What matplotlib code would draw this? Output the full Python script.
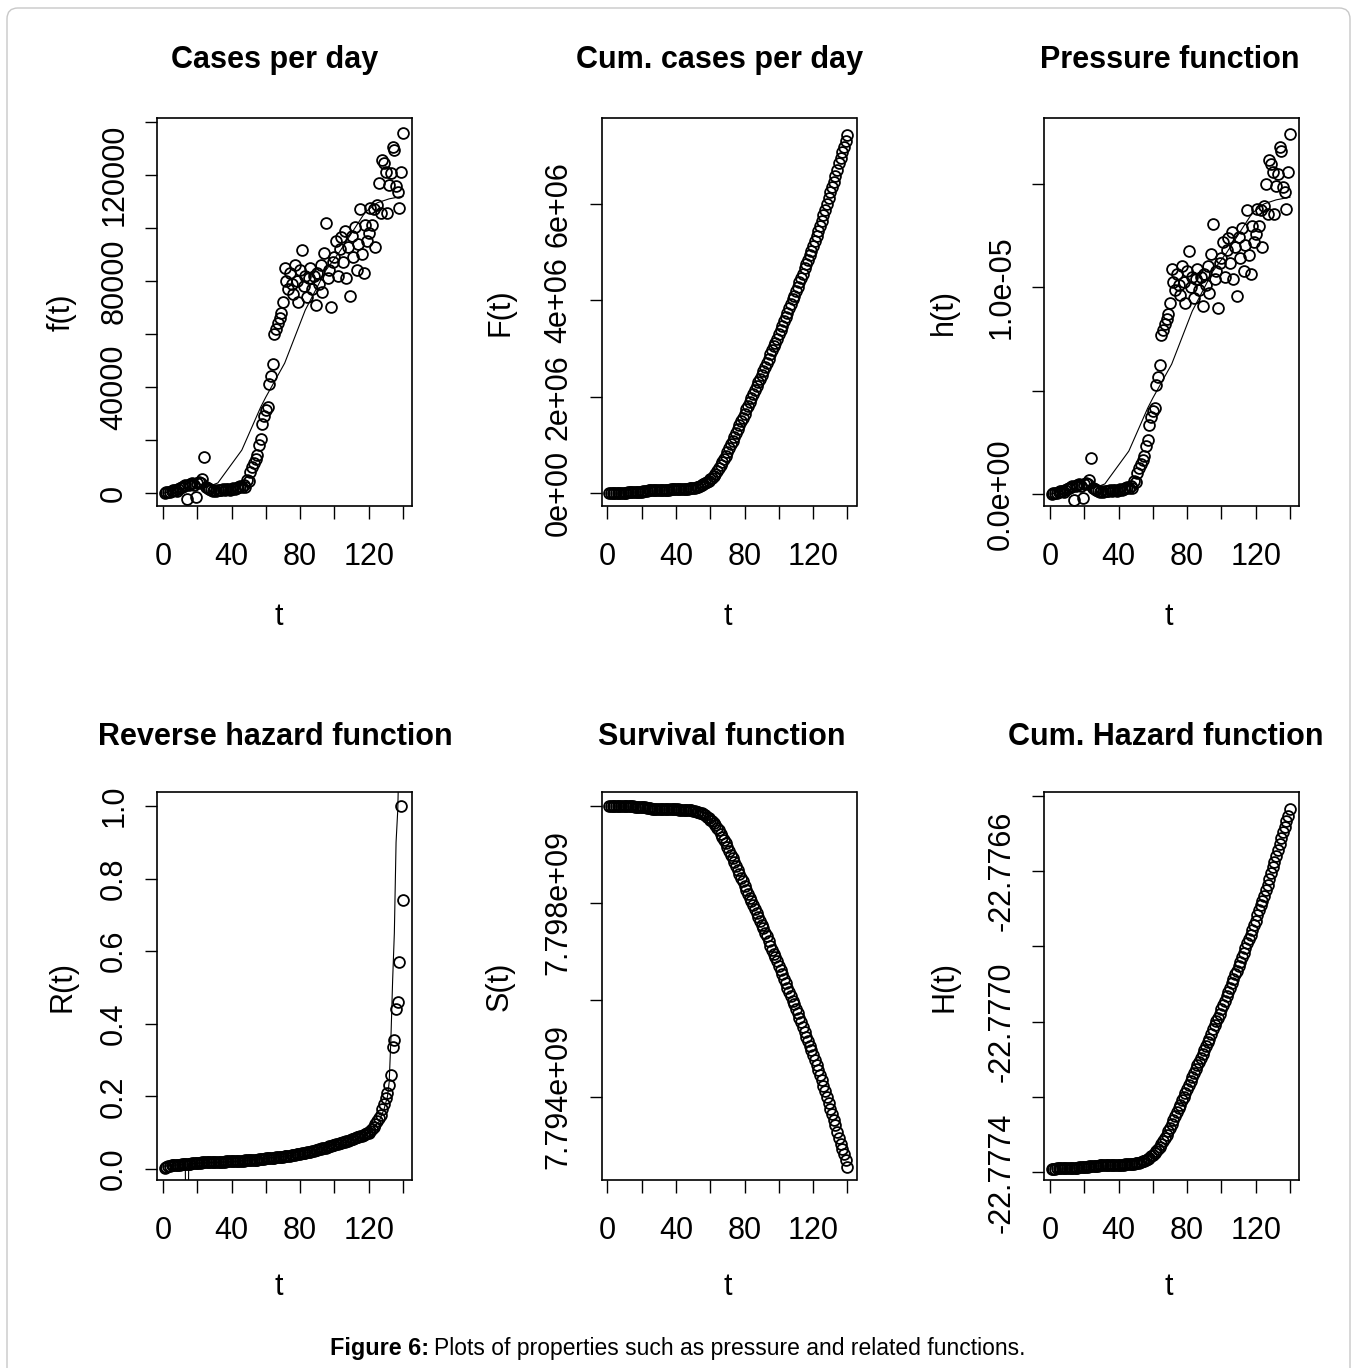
import numpy as np
import matplotlib
matplotlib.use("Agg")
import matplotlib.pyplot as plt
from matplotlib.patches import FancyBboxPatch
from matplotlib.ticker import FixedLocator, FixedFormatter

plt.rcParams['font.family'] = ['Liberation Sans', 'DejaVu Sans']

# ---------------- data ----------------
t = np.arange(1, 141)

f_cases = [
    0, 200, 500, 300, 800, 1000, 1200, 900, 1500, 1800,
    2100, 2500, 2900, -2200, 3200, 3500, 3800, 3000, -1600, 3600,
    4300, 3900, 5200, 13700, 2400, 1800, 1500, 1000, 800, 1200,
    900, 1100, 1300, 1000, 1500, 1200, 1400, 1700, 1300, 1600,
    1800, 1500, 2000, 2300, 2600, 2200, 3000, 2400, 4900, 4400,
    8000, 10000, 11500, 12800, 14500, 18000, 20500, 26000, 29000, 31500,
    32500, 41000, 44000, 48500, 60000, 62000, 64000, 66000, 68000,
    72000, 85000, 80000, 77000, 83000, 79000, 75000, 86000, 80000, 72000,
    84000, 91700, 78000, 82000, 74000, 81000, 85000, 77000, 82000, 71000,
    83000, 79000, 86000, 76000, 90500, 102000, 81000, 84000, 70000, 87000,
    89000, 95000, 82000, 92000, 96500, 87000, 99000, 81000, 93000, 74500,
    97000, 89000, 100500, 84000, 94000, 107000, 90000, 83000, 101000, 95000,
    98000, 107500, 101000, 107000, 93000, 108500, 117000, 105500, 125800, 124500,
    121300, 105700, 116300, 120700, 130700, 129400, 115800, 113700, 107400, 121300,
    135700,
]

fit_t = [1, 10, 20, 28, 32, 46, 57, 60, 71, 83, 95, 103, 110, 118, 125, 132, 140]
fit_f = [0, 1500, 2500, 2800, 3800, 16200, 32400, 36200, 49000, 69000, 84000,
         91000, 98000, 106000, 109500, 111000, 112000]

population = 7.8e9

R_vals = [
    0.004, 0.006, 0.008, 0.009, 0.010, 0.010, 0.011, 0.011, 0.012, 0.012,
    0.013, 0.013, 0.014, 0.014, 0.015, 0.015, 0.016, 0.016, 0.016, 0.017,
    0.017, 0.017, 0.018, 0.018, 0.018, 0.018, 0.019, 0.019, 0.019, 0.019,
    0.019, 0.020, 0.020, 0.020, 0.020, 0.020, 0.021, 0.021, 0.021, 0.021,
    0.022, 0.022, 0.022, 0.022, 0.023, 0.023, 0.023, 0.024, 0.024, 0.024,
    0.025, 0.025, 0.026, 0.026, 0.026, 0.027, 0.027, 0.028, 0.028, 0.029,
    0.029, 0.030, 0.030, 0.031, 0.031, 0.032, 0.032, 0.033, 0.034, 0.034,
    0.035, 0.036, 0.036, 0.037, 0.038, 0.039, 0.039, 0.040, 0.041, 0.042,
    0.043, 0.044, 0.045, 0.046, 0.047, 0.048, 0.049, 0.050, 0.052, 0.053,
    0.054, 0.055, 0.057, 0.058, 0.059, 0.061, 0.062, 0.064, 0.065, 0.066,
    0.068, 0.069, 0.071, 0.072, 0.074, 0.075, 0.077, 0.078, 0.080, 0.082,
    0.083, 0.085, 0.087, 0.089, 0.090, 0.092, 0.094, 0.096, 0.098,
    0.100, 0.105, 0.111, 0.117, 0.124, 0.131, 0.140, 0.150, 0.165, 0.180,
    0.195, 0.210, 0.232, 0.258, 0.335, 0.355, 0.44, 0.46, 0.57, 1.0, 0.74,
]

R_line_t = [1, 13, 14, 15, 40, 80, 110, 120, 126, 129, 131, 132, 133, 134, 135, 136, 137, 138.5]
R_line_v = [0.008, 0.014, -0.5, 0.015, 0.020, 0.040, 0.078, 0.100, 0.13, 0.165,
            0.20, 0.24, 0.36, 0.52, 0.65, 0.90, 0.99, 1.3]

titles = ["Cases per day", "Cum. cases per day", "Pressure function",
          "Reverse hazard function", "Survival function", "Cum. Hazard function"]
ylabels = ["f(t)", "F(t)", "h(t)", "R(t)", "S(t)", "H(t)"]

x_ticks = [0, 20, 40, 60, 80, 100, 120, 140]
x_ticklabels = ["0", "", "40", "", "80", "", "120", ""]

# ---------------- derived series (definitions of the functions) ----------------
f_arr = np.array(f_cases, dtype=float)
F_arr = np.cumsum(f_arr)
S_arr = population - F_arr
h_arr = f_arr / S_arr
H_arr = -np.log(S_arr)

# ---------------- figure ----------------
W, H = 1358, 1368
fig = plt.figure(figsize=(W / 100, H / 100), dpi=100)
fig.patch.set_facecolor("white")

def px_axes(l, tp, r, b):
    return fig.add_axes([l / W, 1 - b / H, (r - l) / W, (b - tp) / H])

def ftext(x, y, s, **kw):
    fig.text(x / W, 1 - y / H, s, **kw)

border = FancyBboxPatch((7 / W, -0.05), (1350 - 7) / W, (1 - 8 / H) + 0.05,
                        boxstyle="round,pad=0,rounding_size=0.008",
                        transform=fig.transFigure, facecolor="none",
                        edgecolor="#c8c8c8", linewidth=1.0)
fig.patches.append(border)

boxes = [(157, 118, 412, 506), (601.5, 118, 856.5, 506), (1044, 118, 1299, 506),
         (157, 792, 412, 1180), (601.5, 792, 856.5, 1180), (1044, 792, 1299, 1180)]
title_pos = [(275, 60), (720, 60), (1170, 60), (275, 737), (722, 737), (1166, 737)]
ylab_x = [62, 500, 944, 62, 500, 944]
xlab_y = [617, 617, 617, 1287, 1287, 1287]
xlab_x = [279, 728, 1169, 279, 728, 1169]

series = [f_arr, F_arr, h_arr, np.array(R_vals), S_arr, H_arr]
ylims = [(-4900, 141500), (-2.7e5, 7.79e6), (-5.8e-7, 1.819e-5),
         (-0.0303, 1.0386), (7.79229e9, 7.80028e9), (-22.77742, -22.77639)]
yticks = [
    ([0, 20000, 40000, 60000, 80000, 100000, 120000, 140000],
     ["0", "", "40000", "", "80000", "", "120000", ""]),
    ([0, 2e6, 4e6, 6e6], ["0e+00", "2e+06", "4e+06", "6e+06"]),
    ([0, 5e-6, 1e-5, 1.5e-5], ["0.0e+00", "", "1.0e-05", ""]),
    ([0, 0.2, 0.4, 0.6, 0.8, 1.0], ["0.0", "0.2", "0.4", "0.6", "0.8", "1.0"]),
    ([7.794e9, 7.796e9, 7.798e9, 7.800e9], ["7.794e+09", "", "7.798e+09", ""]),
    ([-22.7774, -22.7772, -22.7770, -22.7768, -22.7766, -22.7764],
     ["-22.7774", "", "-22.7770", "", "-22.7766", ""]),
]

FS = 22
for i in range(6):
    ax = px_axes(*boxes[i])
    ax.plot(t, series[i], linestyle="none", marker="o", markersize=7.8,
            markerfacecolor="none", markeredgecolor="black", markeredgewidth=1.3)
    if i == 0:
        ax.plot(fit_t, fit_f, color="black", linewidth=0.8)
    if i == 2:
        ax.plot(fit_t, np.array(fit_f) / population, color="black", linewidth=0.8)
    if i == 3:
        ax.plot(R_line_t, R_line_v, color="black", linewidth=0.8)
    ax.set_xlim(-3.5, 145.3)
    ax.set_ylim(*ylims[i])
    ax.xaxis.set_major_locator(FixedLocator(x_ticks))
    ax.xaxis.set_major_formatter(FixedFormatter(x_ticklabels))
    ax.yaxis.set_major_locator(FixedLocator(yticks[i][0]))
    ax.yaxis.set_major_formatter(FixedFormatter(yticks[i][1]))
    ax.tick_params(direction="out", length=9, width=1.0, labelsize=FS,
                   colors="black")
    ax.tick_params(axis="x", pad=17)
    ax.tick_params(axis="y", pad=11, labelrotation=90)
    for lab in ax.get_yticklabels():
        lab.set_va("center")
    for sp in ax.spines.values():
        sp.set_linewidth(1.2)
    ftext(title_pos[i][0], title_pos[i][1], titles[i], ha="center", va="center",
          fontsize=FS, fontweight="bold")
    cy = (boxes[i][1] + boxes[i][3]) / 2
    ftext(ylab_x[i], cy, ylabels[i], ha="center", va="center", rotation=90,
          fontsize=FS)
    ftext(xlab_x[i], xlab_y[i], "t", ha="center", va="center", fontsize=FS)

ftext(429, 1348, "Figure 6:", ha="right", va="center", fontsize=16.8, fontweight="bold")
ftext(434, 1348, "Plots of properties such as pressure and related functions.",
      ha="left", va="center", fontsize=16.5)

fig.savefig("out.png", dpi=100)
